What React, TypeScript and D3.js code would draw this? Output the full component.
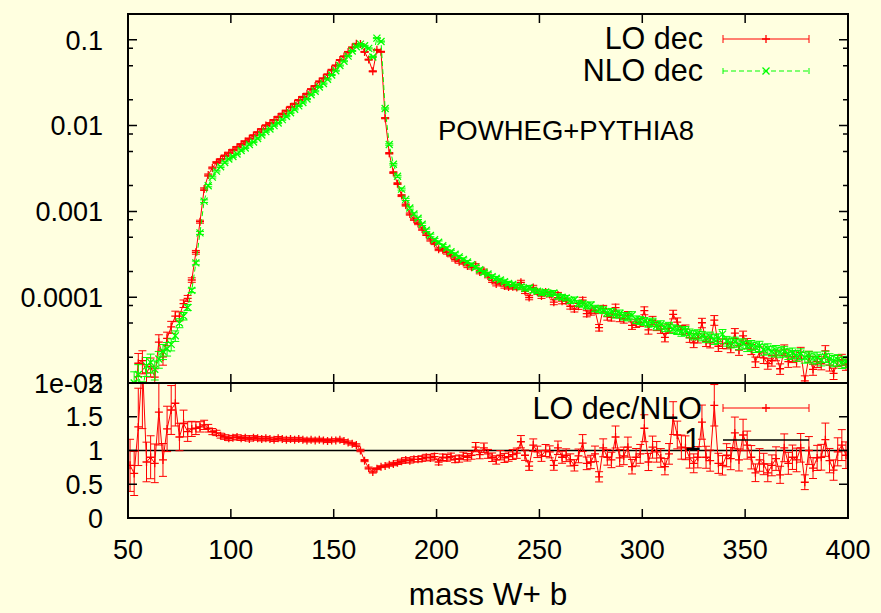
import React from "react";
import * as d3 from "d3";

// ---------- data ----------
const binCenters: number[] = d3.range(51, 400, 2); // 2 GeV bins, 50..400

// NLO dec, log10 of bin value
const nloDecLog10: number[] = [
  -5.20, -5.00, -4.90, -5.10, -4.80, -4.76, -4.84, -4.72, -4.63, -4.60,
  -4.55, -4.45, -4.30, -4.22, -4.12, -3.92, -3.60, -3.25, -2.88, -2.70,
  -2.60, -2.53, -2.48, -2.43, -2.39, -2.36, -2.33, -2.29, -2.26, -2.22,
  -2.19, -2.15, -2.11, -2.07, -2.04, -2.00, -1.97, -1.93, -1.89, -1.85,
  -1.81, -1.77, -1.73, -1.69, -1.64, -1.60, -1.55, -1.51, -1.46, -1.41,
  -1.36, -1.30, -1.25, -1.19, -1.13, -1.08, -1.05, -1.07, -1.10, -1.20,
  -0.98, -1.02, -1.80, -2.22, -2.45, -2.59, -2.74, -2.86, -2.96, -3.03,
  -3.08, -3.15, -3.22, -3.28, -3.33, -3.36, -3.40, -3.43, -3.47, -3.50,
  -3.53, -3.56, -3.59, -3.62, -3.65, -3.68, -3.71, -3.73, -3.76, -3.78,
  -3.80, -3.82, -3.84, -3.85, -3.87, -3.88, -3.90, -3.89, -3.92, -3.93,
  -3.95, -3.94, -3.96, -3.95, -3.99, -4.00, -4.01, -4.04, -4.03, -4.07,
  -4.08, -4.10, -4.09, -4.13, -4.14, -4.15, -4.18, -4.17, -4.20, -4.19,
  -4.22, -4.23, -4.21, -4.26, -4.27, -4.28, -4.30, -4.29, -4.33, -4.32,
  -4.35, -4.34, -4.37, -4.38, -4.40, -4.39, -4.42, -4.44, -4.43, -4.45,
  -4.47, -4.46, -4.49, -4.48, -4.43, -4.51, -4.53, -4.52, -4.55, -4.54,
  -4.57, -4.56, -4.58, -4.57, -4.61, -4.60, -4.63, -4.62, -4.64, -4.63,
  -4.66, -4.65, -4.68, -4.66, -4.70, -4.69, -4.71, -4.70, -4.73, -4.69,
  -4.72, -4.74, -4.73, -4.76, -4.75,
];

// LO dec / NLO ratio per bin (lower panel)
const ratioLoNlo: number[] = [
  0.78, 0.66, 1.35, 2.30, 0.83, 0.90, 0.81, 1.57, 0.86, 1.32,
  1.60, 1.70, 1.20, 1.40, 1.28, 1.32, 1.33, 1.35, 1.38, 1.33,
  1.28, 1.26, 1.22, 1.20, 1.18, 1.19, 1.20, 1.18, 1.19, 1.17,
  1.19, 1.18, 1.17, 1.18, 1.17, 1.16, 1.18, 1.17, 1.16, 1.17,
  1.16, 1.17, 1.16, 1.15, 1.16, 1.15, 1.16, 1.15, 1.14, 1.15,
  1.15, 1.16, 1.14, 1.12, 1.10, 1.08, 1.00, 0.85, 0.74, 0.68,
  0.73, 0.76, 0.77, 0.79, 0.80, 0.82, 0.84, 0.86, 0.85, 0.87,
  0.87, 0.88, 0.90, 0.89, 0.91, 0.83, 0.90, 0.89, 0.91, 0.87,
  0.88, 0.92, 0.90, 0.93, 1.05, 0.94, 1.04, 0.95, 0.90, 0.86,
  0.93, 0.89, 0.91, 0.94, 0.96, 1.13, 0.93, 0.77, 1.08, 0.98,
  0.92, 1.00, 0.98, 0.78, 1.04, 0.90, 0.93, 0.86, 0.78, 0.92,
  1.11, 0.81, 0.83, 0.95, 0.61, 1.04, 0.90, 0.86, 1.20, 0.89,
  0.92, 1.05, 0.76, 0.90, 0.95, 1.33, 0.83, 1.05, 0.98, 0.89,
  0.76, 0.95, 1.48, 1.23, 1.05, 1.04, 0.89, 0.81, 0.90, 1.42,
  0.90, 0.85, 1.67, 0.81, 0.78, 0.93, 0.88, 1.26, 0.86, 1.23,
  1.08, 0.90, 0.67, 0.86, 0.80, 0.67, 0.78, 0.88, 0.64, 1.04,
  0.81, 0.90, 0.86, 1.04, 0.53, 1.00, 0.74, 0.89, 0.90, 1.16,
  0.85, 0.71, 0.98, 1.08, 0.93,
];

// relative statistical error of each bin (both samples)
const relErr: number[] = [
  0.35, 0.35, 0.30, 0.30, 0.25, 0.25, 0.25, 0.22, 0.20, 0.18,
  0.16, 0.14, 0.12, 0.10, 0.08, 0.06, 0.05, 0.04, 0.035, 0.03,
  0.025, 0.022, 0.021, 0.02, 0.02, 0.02, 0.019, 0.019, 0.018, 0.018,
  0.018, 0.017, 0.017, 0.017, 0.016, 0.016, 0.016, 0.016, 0.015, 0.015,
  0.015, 0.015, 0.015, 0.015, 0.014, 0.014, 0.014, 0.014, 0.014, 0.014,
  0.013, 0.013, 0.013, 0.013, 0.013, 0.013, 0.013, 0.013, 0.014, 0.015,
  0.013, 0.013, 0.016, 0.02, 0.022, 0.024, 0.026, 0.028, 0.03, 0.031,
  0.032, 0.033, 0.034, 0.035, 0.036, 0.037, 0.038, 0.039, 0.04, 0.041,
  0.042, 0.043, 0.044, 0.045, 0.046, 0.047, 0.048, 0.049, 0.05, 0.051,
  0.052, 0.053, 0.054, 0.055, 0.056, 0.057, 0.058, 0.059, 0.06, 0.061,
  0.062, 0.063, 0.064, 0.066, 0.068, 0.07, 0.072, 0.074, 0.076, 0.078,
  0.08, 0.082, 0.084, 0.086, 0.088, 0.09, 0.092, 0.094, 0.096, 0.098,
  0.1, 0.1, 0.1, 0.102, 0.104, 0.106, 0.108, 0.11, 0.11, 0.11,
  0.112, 0.114, 0.116, 0.118, 0.12, 0.12, 0.12, 0.122, 0.124, 0.126,
  0.128, 0.13, 0.13, 0.13, 0.13, 0.13, 0.132, 0.132, 0.134, 0.134,
  0.136, 0.136, 0.138, 0.138, 0.14, 0.14, 0.14, 0.14, 0.14, 0.14,
  0.142, 0.142, 0.144, 0.144, 0.146, 0.146, 0.148, 0.148, 0.15, 0.15,
  0.15, 0.15, 0.15, 0.15, 0.15,
];

const xTickValues: number[] = [50, 100, 150, 200, 250, 300, 350, 400];
const yTopTickValues: number[] = [0.1, 0.01, 0.001, 0.0001, 0.00001];
const yTopTickLabels: string[] = ["0.1", "0.01", "0.001", "0.0001", "1e-05"];
const yTopMinorMantissas: number[] = [2, 5, 8];
const yBotTickValues: number[] = [0, 0.5, 1, 1.5, 2];
const yBotTickLabels: string[] = ["0", "0.5", "1", "1.5", "2"];

const legendTop: string[] = ["LO dec", "NLO dec"];
const legendBottom: string[] = ["LO dec/NLO", "1"];
const annotation = "POWHEG+PYTHIA8";
const xTitle = "mass W+ b";

// ---------- layout ----------
const W = 881;
const H = 613;
const L = 128;
const R = 848;
const T = 14;
const MID = 383;
const B = 518;
const BG = "#ffffe0";
const RED = "#ff0000";
const GREEN = "#00ff00";
const FONT = "'Liberation Sans', Arial, Helvetica, sans-serif";
const FS = 27;
const FS_TXT = 30.5;

type Pt = { m: number; lo: number; nlo: number; r: number; e: number };

export default function App() {
  const n = Math.min(binCenters.length, nloDecLog10.length, ratioLoNlo.length, relErr.length);
  const pts: Pt[] = [];
  for (let i = 0; i < n; i++) {
    const nlo = Math.pow(10, nloDecLog10[i]);
    pts.push({ m: binCenters[i], nlo, lo: nlo * ratioLoNlo[i], r: ratioLoNlo[i], e: relErr[i] });
  }

  const x = d3.scaleLinear().domain([50, 400]).range([L, R]);
  const yTop = d3.scaleLog().domain([1e-5, 0.2]).range([MID, T]);
  const yBot = d3.scaleLinear().domain([0, 2]).range([B, MID]);

  const lineLo = d3.line<Pt>().x((d) => x(d.m)).y((d) => yTop(d.lo));
  const lineNlo = d3.line<Pt>().x((d) => x(d.m)).y((d) => yTop(d.nlo));
  const lineR = d3.line<Pt>().x((d) => x(d.m)).y((d) => yBot(d.r));

  const cap = 4;
  const plus = (cx: number, cy: number, s = 4) => `M${cx - s},${cy}H${cx + s}M${cx},${cy - s}V${cy + s}`;
  const cross = (cx: number, cy: number, s = 3.5) =>
    `M${cx - s},${cy - s}L${cx + s},${cy + s}M${cx - s},${cy + s}L${cx + s},${cy - s}`;
  const errBar = (cx: number, y1: number, y2: number, c = cap) =>
    `M${cx},${y1}V${y2}M${cx - c},${y1}H${cx + c}M${cx - c},${y2}H${cx + c}`;

  let loErr = "";
  let loMark = "";
  let nloErr = "";
  let nloMark = "";
  let rErr = "";
  let rMark = "";
  pts.forEach((d) => {
    const cx = x(d.m);
    loErr += errBar(cx, yTop(d.lo * (1 + d.e)), yTop(Math.max(d.lo * (1 - d.e), 1e-9)));
    loMark += plus(cx, yTop(d.lo));
    nloErr += errBar(cx, yTop(d.nlo * (1 + d.e)), yTop(Math.max(d.nlo * (1 - d.e), 1e-9)));
    nloMark += cross(cx, yTop(d.nlo));
    const re = d.r * Math.SQRT2 * d.e;
    rErr += errBar(cx, yBot(d.r + re), yBot(d.r - re));
    rMark += plus(cx, yBot(d.r));
  });

  const tickPaths: string[] = [];
  const major = 9;
  const minor = 5;
  xTickValues.forEach((v) => {
    const px = x(v);
    if (v === 50 || v === 400) return;
    tickPaths.push(`M${px},${T}v${major}`);
    tickPaths.push(`M${px},${MID - major}v${2 * major}`);
    tickPaths.push(`M${px},${B}v${-major}`);
  });
  yTopTickValues.forEach((v) => {
    const py = yTop(v);
    tickPaths.push(`M${L},${py}h${major}M${R},${py}h${-major}`);
  });
  for (let k = -5; k <= -1; k++) {
    yTopMinorMantissas.forEach((mn) => {
      const v = mn * Math.pow(10, k);
      if (v <= 1e-5 || v >= 0.2) return;
      const py = yTop(v);
      tickPaths.push(`M${L},${py}h${minor}M${R},${py}h${-minor}`);
    });
  }
  yBotTickValues.forEach((v) => {
    const py = yBot(v);
    tickPaths.push(`M${L},${py}h${major}M${R},${py}h${-major}`);
  });

  const lx1 = 723;
  const lx2 = 809;
  const lxm = (lx1 + lx2) / 2;

  return (
    <div style={{ width: W, height: H }}>
      <style>{`body{margin:0;}`}</style>
      <svg width={W} height={H} style={{ display: "block", background: BG }} fontFamily={FONT}>
        <rect x={0} y={0} width={W} height={H} fill={BG} />
        <defs>
          <clipPath id="clipTop">
            <rect x={L} y={T} width={R - L} height={MID - T} />
          </clipPath>
          <clipPath id="clipBot">
            <rect x={L} y={MID} width={R - L} height={B - MID} />
          </clipPath>
        </defs>

        <g clipPath="url(#clipTop)" fill="none">
          <path d={lineLo(pts) || ""} stroke={RED} strokeWidth={1} />
          <path d={loErr} stroke={RED} strokeWidth={1} />
          <path d={loMark} stroke={RED} strokeWidth={1.3} />
          <path d={lineNlo(pts) || ""} stroke={GREEN} strokeWidth={1} strokeDasharray="5,3" />
          <path d={nloErr} stroke={GREEN} strokeWidth={1} />
          <path d={nloMark} stroke={GREEN} strokeWidth={1.3} />
        </g>

        <line x1={L} x2={R} y1={yBot(1)} y2={yBot(1)} stroke="#000" strokeWidth={1.5} />
        <g clipPath="url(#clipBot)" fill="none">
          <path d={lineR(pts) || ""} stroke={RED} strokeWidth={1} />
          <path d={rErr} stroke={RED} strokeWidth={1} />
          <path d={rMark} stroke={RED} strokeWidth={1.3} />
        </g>

        <rect x={L} y={T} width={R - L} height={MID - T} fill="none" stroke="#000" strokeWidth={2} />
        <rect x={L} y={MID} width={R - L} height={B - MID} fill="none" stroke="#000" strokeWidth={2} />
        <path d={tickPaths.join("")} stroke="#000" strokeWidth={1.5} fill="none" />

        <g fontSize={FS} fill="#000">
          {yTopTickValues.map((v, i) => (
            <text key={"yt" + i} x={103} y={yTop(v) + FS * 0.36} textAnchor="end">
              {yTopTickLabels[i]}
            </text>
          ))}
          {yBotTickValues.map((v, i) => (
            <text key={"yb" + i} x={103} y={yBot(v) + FS * 0.36} textAnchor="end">
              {yBotTickLabels[i]}
            </text>
          ))}
          {xTickValues.map((v, i) => (
            <text key={"xt" + i} x={x(v)} y={559} textAnchor="middle">
              {String(v)}
            </text>
          ))}
          <text x={488} y={605} textAnchor="middle" fontSize={31.5}>
            {xTitle}
          </text>
          <text x={438} y={140} fontSize={27.5}>
            {annotation}
          </text>

          <text x={703} y={49} textAnchor="end" fontSize={FS_TXT}>{legendTop[0]}</text>
          <text x={703} y={81} textAnchor="end" fontSize={FS_TXT}>{legendTop[1]}</text>
          <text x={702} y={419} textAnchor="end" fontSize={FS_TXT}>{legendBottom[0]}</text>
          <text x={701} y={450} textAnchor="end" fontSize={FS_TXT}>{legendBottom[1]}</text>
        </g>

        <g fill="none">
          <path d={`M${lx1},39H${lx2}`} stroke={RED} strokeWidth={1} />
          <path d={`M${lx1},35V43M${lx2},35V43`} stroke={RED} strokeWidth={1} />
          <path d={plus(lxm, 39)} stroke={RED} strokeWidth={1.3} />

          <path d={`M${lx1},71H${lx2}`} stroke={GREEN} strokeWidth={1} strokeDasharray="5,3" />
          <path d={`M${lx1},68V74M${lx2},68V74`} stroke={GREEN} strokeWidth={1} />
          <path d={cross(lxm, 71)} stroke={GREEN} strokeWidth={1.3} />

          <path d={`M${lx1},408H${lx2}`} stroke={RED} strokeWidth={1} />
          <path d={`M${lx1},404V412M${lx2},404V412`} stroke={RED} strokeWidth={1} />
          <path d={plus(lxm, 408)} stroke={RED} strokeWidth={1.3} />

          <path d={`M${lx1},440H${lx2}`} stroke="#000" strokeWidth={1.5} />
        </g>
      </svg>
    </div>
  );
}
